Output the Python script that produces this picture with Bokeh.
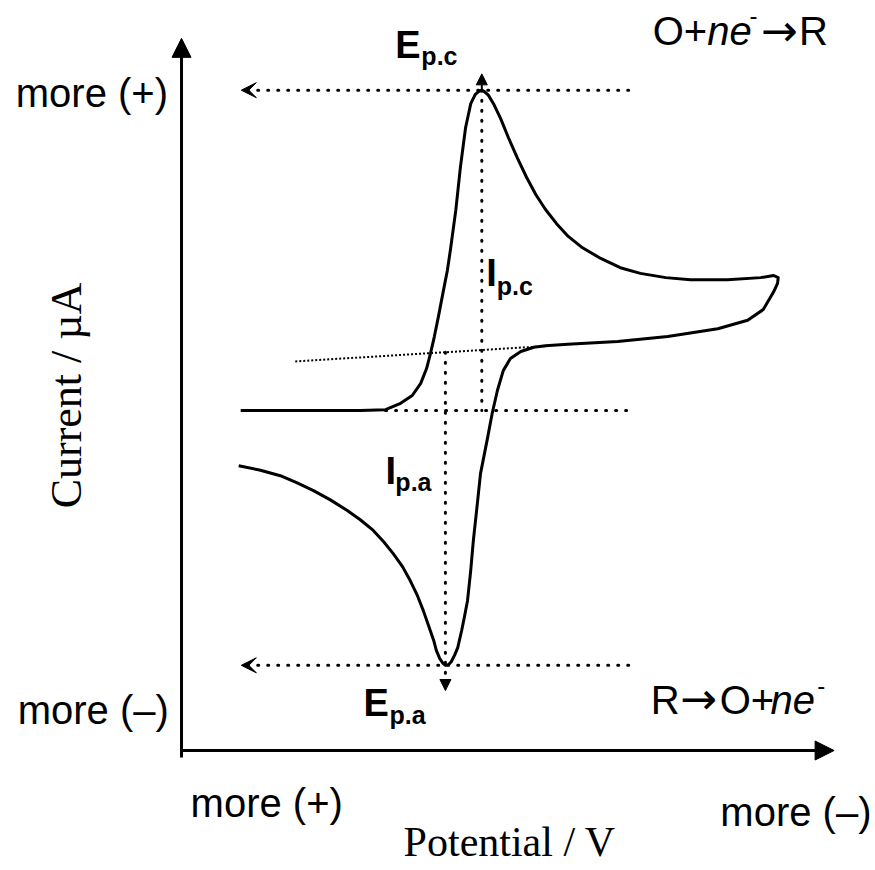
from bokeh.plotting import figure
from bokeh.models import Range1d, Arrow, NormalHead, VeeHead
from bokeh.core.properties import value
from bokeh.embed import file_html
from bokeh.resources import INLINE

# Schematic cyclic voltammogram, arbitrary units (potential grows toward "more (-)")
fwd_E = [9.1, 18.3, 27.5, 31.4, 33.7, 35.5, 36.8, 37.7, 38.3, 38.9, 39.5, 40.3, 40.9,
         41.4, 42.2, 42.9, 43.7, 44.5, 45.2, 45.7, 46.2, 46.6, 47.2, 48.0, 49.1, 50.3,
         51.7, 53.1, 54.5, 56.0, 57.7, 59.5, 61.7, 64.5, 67.5, 70.6, 74.5, 78.3, 84.0,
         89.1, 91.1, 91.8]
fwd_I = [47.9, 47.9, 47.9, 48.0, 48.9, 50.0, 51.7, 53.8, 55.9, 58.3, 61.0, 64.8, 67.6,
         70.7, 76.1, 82.1, 87.7, 91.1, 92.4, 92.8, 93.0, 92.8, 92.3, 91.1, 89.0, 86.3,
         83.4, 80.7, 78.3, 76.2, 74.2, 72.4, 70.8, 69.3, 68.0, 67.2, 66.6, 66.3, 66.3,
         66.6, 66.9, 66.6]
rev_E = [91.7, 91.1, 89.5, 87.1, 82.5, 74.8, 67.1, 59.4, 56.0, 54.2, 52.2, 50.6, 49.5,
         48.6, 47.8, 47.1, 46.0, 45.4, 44.9, 44.5, 44.0, 43.5, 43.1, 42.5, 42.0, 41.5,
         41.1, 40.6, 40.2, 39.7, 39.2, 38.8, 38.0, 37.2, 36.3, 35.2, 34.0, 32.6, 31.1,
         29.5, 27.5, 25.5, 22.9, 20.3, 17.8, 15.2, 12.0, 8.8]
rev_I = [65.8, 64.6, 62.1, 60.6, 59.4, 58.3, 57.6, 57.2, 57.0, 56.8, 56.2, 55.2, 53.5,
         50.7, 47.5, 44.1, 39.0, 33.8, 29.6, 25.4, 21.1, 18.7, 16.9, 14.5, 13.4, 12.5,
         12.1, 12.0, 12.3, 13.0, 14.1, 15.5, 17.6, 19.7, 21.8, 23.9, 25.9, 27.7, 29.4,
         31.0, 32.5, 33.8, 35.3, 36.6, 37.7, 38.7, 39.5, 40.1]

# Peak positions
EPC_E, EPC_I = 46.2, 93.0      # cathodic peak
EPA_E, EPA_I = 40.6, 12.0      # anodic peak
BASE_I = 47.9                  # flat starting current
slope_E = [17.5, 56.8]         # extrapolated baseline under the anodic scan
slope_I = [54.8, 57.0]
SLOPE_AT_EPA = 56.1

SANS = "Liberation Sans"
SERIF = "Liberation Serif"

p = figure(width=875, height=870, x_range=Range1d(-27.85, 106.77),
           y_range=Range1d(-16.9, 105.63), x_axis_location=None, y_axis_location=None,
           toolbar_location=None, output_backend="svg", min_border=0)
p.grid.visible = False
p.outline_line_color = None
p.background_fill_color = "white"
p.border_fill_color = "white"

DOT = dict(line_color="black", line_width=3, line_dash="1 9", line_cap="round")

# voltammogram
p.line(fwd_E + rev_E, fwd_I + rev_I, line_color="black", line_width=3, line_join="round")

# peak guide lines
for yv in (EPC_I, EPA_I):
    p.add_layout(Arrow(x_start=68.8, y_start=yv, x_end=9.2, y_end=yv,
                       end=VeeHead(size=15, fill_color="black", line_color="black", line_width=1),
                       **DOT))
p.segment(x0=[31.4], y0=[BASE_I], x1=[68.8], y1=[BASE_I], **DOT)
p.segment(x0=[EPC_E], y0=[EPC_I], x1=[EPC_E], y1=[BASE_I], **DOT)
p.add_layout(Arrow(x_start=EPC_E, y_start=EPC_I, x_end=EPC_E, y_end=95.3,
                   end=NormalHead(size=11, fill_color="black", line_color="black", line_width=1),
                   line_color="black", line_width=2))
p.add_layout(Arrow(x_start=EPA_E, y_start=SLOPE_AT_EPA, x_end=EPA_E, y_end=8.45,
                   end=NormalHead(size=11, fill_color="black", line_color="black", line_width=1),
                   **DOT))
p.line(slope_E, slope_I, line_color="black", line_width=2, line_dash="2 2")

# axes
AX_HEAD = dict(size=19, fill_color="black", line_color="black", line_width=1)
p.add_layout(Arrow(x_start=0, y_start=-1.0, x_end=0, y_end=100.3,
                   end=NormalHead(**AX_HEAD), line_color="black", line_width=3))
p.add_layout(Arrow(x_start=0, y_start=0, x_end=100.4, y_end=0,
                   end=NormalHead(**AX_HEAD), line_color="black", line_width=3))


def label(x, y, text, font=SANS, size=40, style="normal", align="left", angle=0.0):
    # baseline sits about a third of an em below the anchor; lift it back
    p.text(x=[x], y=[y], text=[text], text_font=value(font),
           text_font_size=value(f"{size}px"), text_font_style=style,
           text_align=align, text_baseline="alphabetic", text_color="black",
           angle=angle, y_offset=0 if angle else -round(0.35 * size))


# axis direction labels
label(-25.5, 90.7, "more (+)")
label(-25.2, 3.8, "more (\u2013)")
label(1.4, -9.4, "more (+)")
label(82.9, -10.6, "more (\u2013)")
label(50.5, -15.0, "Potential / V", font=SERIF, size=42, align="center")
label(-17.7, 50.0, "Current / \u00b5A", font=SERIF, size=44, align="center", angle=1.5708)

# reactions
label(72.5, 99.3, "O+")
label(80.9, 99.3, "ne", style="italic")
label(87.4, 102.4, "-", size=24)
label(89.1, 99.3, "\u2192", font="DejaVu Sans", size=44)
label(95.0, 99.3, "R")
label(72.2, 5.2, "R")
label(76.7, 5.2, "\u2192", font="DejaVu Sans", size=44)
label(82.8, 5.2, "O+")
label(90.6, 5.2, "ne", style="italic")
label(97.8, 8.0, "-", size=24)

# peak annotations
label(32.9, 97.6, "E", size=38, style="bold")
label(36.9, 96.5, "p.c", size=25, style="bold")
label(28.0, 4.9, "E", size=38, style="bold")
label(32.0, 3.8, "p.a", size=25, style="bold")
label(46.9, 65.4, "I", size=38, style="bold")
label(48.5, 64.2, "p.c", size=25, style="bold")
label(31.4, 37.6, "I", size=38, style="bold")
label(32.9, 36.5, "p.a", size=25, style="bold")

open("out.html", "w").write(file_html(p, INLINE))
